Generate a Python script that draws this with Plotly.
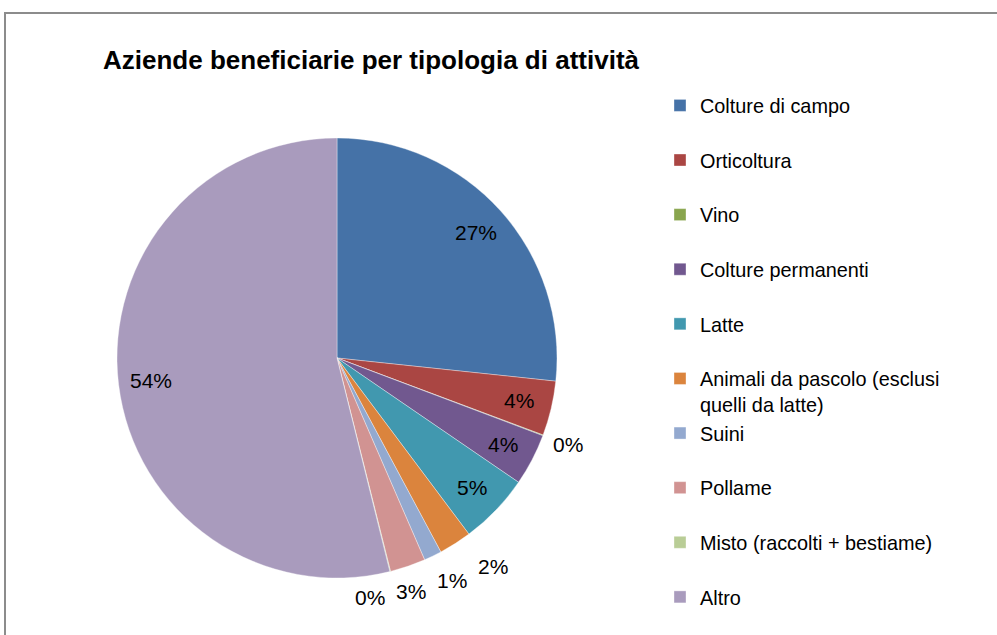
import math
import plotly.graph_objects as go

labels = ["Colture di campo", "Orticoltura", "Vino", "Colture permanenti", "Latte",
          "Animali da pascolo (esclusi<br>quelli da latte)", "Suini", "Pollame",
          "Misto (raccolti + bestiame)", "Altro"]
values = [26.6, 4.0, 0.05, 3.8, 5.2, 2.4, 1.3, 2.6, 0.05, 53.7]
colors = ["#4572A7", "#AA4643", "#89A54E", "#71588F", "#4198AF",
          "#DB843D", "#93A9CF", "#D19392", "#B9CD96", "#A99BBD"]
label_inside = [True, True, False, True, True, False, False, False, False, True]

W, H = 997, 635
FONT = "Liberation Sans, Arial, sans-serif"

# pie geometry (layout, pixels)
CX, CY, R = 337, 358, 220

# legend labels padded with an empty line so items are spaced like the original
legend_labels = [l if "<br>" in l else l + "<br> " for l in labels]

fig = go.Figure(go.Pie(
    labels=legend_labels,
    values=values,
    sort=False,
    direction="clockwise",
    rotation=0,
    marker=dict(colors=colors, line=dict(color="rgba(255,255,255,0.6)", width=0.6)),
    textinfo="none",
    domain=dict(x=[(CX - R) / W, (CX + R) / W], y=[1 - (CY + R) / H, 1 - (CY - R) / H]),
    hovertemplate="%{label}: %{percent:.0%}<extra></extra>",
))

# percentage labels placed along each slice's mid-angle (derived from the values)
total = sum(values)
cum = 0.0
placed = []
for v, ins in zip(values, label_inside):
    frac = v / total
    mid = cum + frac / 2
    cum += frac
    th = 2 * math.pi * mid
    ux, uy = math.sin(th), -math.cos(th)
    d = 0.85 * R if ins else R + 27
    placed.append(dict(x=CX + ux * d, y=CY + uy * d, t=f"{math.floor(frac * 100 + 0.5)}%", ins=ins))

# spread crowded outside labels horizontally
outs = sorted([p for p in placed if not p["ins"]], key=lambda p: p["x"])
clusters, cur = [], []
for p in outs:
    if cur and (abs(p["y"] - cur[-1]["y"]) > 30 or p["x"] - cur[-1]["x"] > 41):
        clusters.append(cur)
        cur = []
    cur.append(p)
if cur:
    clusters.append(cur)
GAP = 41
for c in clusters:
    if len(c) > 1:
        m = sum(p["x"] for p in c) / len(c)
        for k, p in enumerate(c):
            p["x"] = m + (k - (len(c) - 1) / 2) * GAP

annotations = [dict(x=p["x"] / W, y=1 - p["y"] / H, xref="paper", yref="paper",
                    text=p["t"], showarrow=False, xanchor="center", yanchor="middle",
                    font=dict(family=FONT, size=21, color="#000000"))
               for p in placed]

fig.update_layout(
    width=W, height=H,
    margin=dict(l=0, r=0, t=0, b=0, autoexpand=False),
    paper_bgcolor="white",
    plot_bgcolor="white",
    title=dict(text="<b>Aziende beneficiarie per tipologia di attività</b>",
               x=103 / W, xanchor="left", xref="paper",
               y=1 - 60 / H, yanchor="middle", yref="paper",
               font=dict(family=FONT, size=26, color="#000000")),
    legend=dict(x=660 / W, xanchor="left", y=1 - 86 / H, yanchor="top",
                font=dict(family=FONT, size=19.85, color="#000000"),
                valign="top", traceorder="normal", bgcolor="rgba(0,0,0,0)"),
    annotations=annotations,
    shapes=[dict(type="rect", xref="paper", yref="paper",
                 x0=5 / W, x1=1.2, y0=-0.2, y1=1 - 13 / H,
                 line=dict(color="#8c8c8c", width=2), fillcolor="rgba(0,0,0,0)")],
)

fig.write_html("out.html", config={"displayModeBar": False},
               post_script="document.body.style.margin='0px';")
